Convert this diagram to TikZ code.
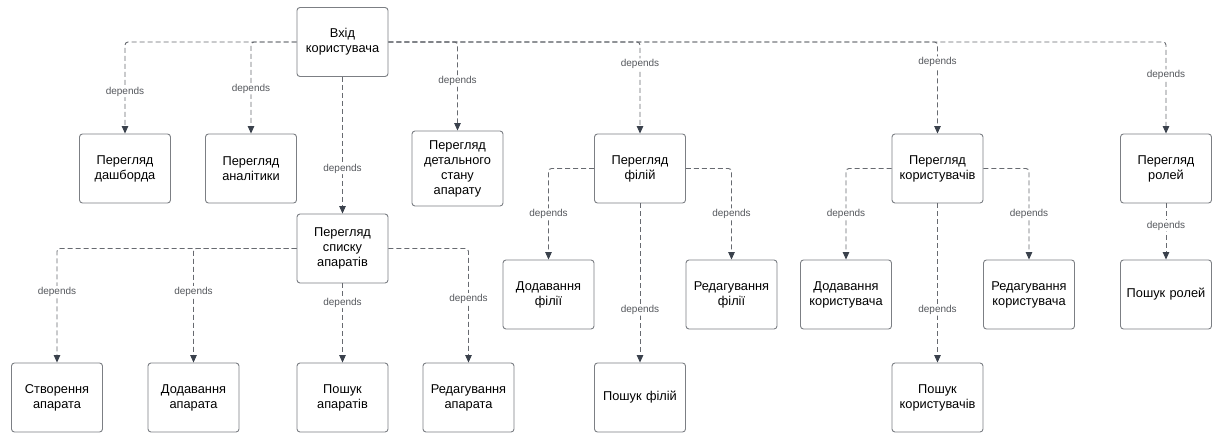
\documentclass[tikz,border=0pt]{standalone}
\usepackage{fontspec}
\setmainfont{Liberation Sans}
\usetikzlibrary{arrows.meta}
\definecolor{boxline}{HTML}{7C7F84}
\definecolor{edgeline}{HTML}{676A70}
\definecolor{tipcol}{HTML}{3A414C}
\definecolor{labeltext}{HTML}{55585D}
\tikzset{
  usecase/.style={draw=boxline, line width=0.9pt, rounded corners=3pt, fill=white,
    minimum width=91pt, minimum height=69pt, text width=86pt, align=center,
    inner sep=0pt, font=\fontsize{12.8}{15}\selectfont, text=black},
  dep/.style={draw=edgeline, line width=0.9pt, dash pattern=on 5pt off 3pt,
    rounded corners=3pt, -{Triangle[width=6.5pt,length=7.5pt,fill=tipcol,color=tipcol]}},
  deplabel/.style={fill=white, inner sep=1pt, font=\fontsize{10}{11}\selectfont,
    text=labeltext}
}
\begin{document}
\begin{tikzpicture}[x=1pt,y=-1pt]
\useasboundingbox[fill=white] (0,0) rectangle (1215,434);

% top level
\node[usecase] (login) at (342.5,42) {Вхід\\користувача};

% second level
\node[usecase] (dash)   at (125,168.5)   {Перегляд\\дашборда};
\node[usecase] (anal)   at (251,168.5)   {Перегляд\\аналітики};
\node[usecase, minimum height=75pt] (detail) at (457.5,168.5) {Перегляд\\детального\\стану\\апарату};
\node[usecase] (branch) at (640,168.5)   {Перегляд\\філій};
\node[usecase] (users)  at (937.5,168.5) {Перегляд\\користувачів};
\node[usecase] (roles)  at (1166,168.5)  {Перегляд\\ролей};
\node[usecase] (devlist) at (342.5,248.5) {Перегляд\\списку\\апаратів};

% third level
\node[usecase] (devcreate) at (57,397.5)    {Створення\\апарата};
\node[usecase] (devadd)    at (193.5,397.5) {Додавання\\апарата};
\node[usecase] (devfind)   at (342.5,397.5) {Пошук\\апаратів};
\node[usecase] (devedit)   at (468.5,397.5) {Редагування\\апарата};

\node[usecase] (bradd)  at (548.5,294.5) {Додавання\\філії};
\node[usecase] (brfind) at (640,397.5)   {Пошук філій};
\node[usecase] (bredit) at (731.5,294.5) {Редагування\\філії};

\node[usecase] (usadd)  at (846,294.5)   {Додавання\\користувача};
\node[usecase] (usfind) at (937.5,397.5) {Пошук\\користувачів};
\node[usecase] (usedit) at (1029,294.5)  {Редагування\\користувача};

\node[usecase] (rlfind) at (1166,294.5)  {Пошук ролей};

% dependencies of the login
\draw[dep] (login.west) -| node[deplabel, pos=0.77] (l1) {depends} (dash.north);
\draw[dep] (login.west) -| node[deplabel, pos=0.755] (l2) {depends} (anal.north);
\draw[dep] (login.south) -- node[deplabel, pos=0.67] (l3) {depends} (devlist.north);
\draw[dep] (login.east) -| node[deplabel, pos=0.72] (l4) {depends} (detail.north);
\draw[dep] (login.east) -| node[deplabel, pos=0.62] (l5) {depends} (branch.north);
\draw[dep] (login.east) -| node[deplabel, pos=0.61] (l6) {depends} (users.north);
\draw[dep] (login.east) -| node[deplabel, pos=0.68] (l7) {depends} (roles.north);

% device list
\draw[dep] (devlist.west) -| node[deplabel, pos=0.69] (l8) {depends} (devcreate.north);
\draw[dep] (devlist.west) -| node[deplabel, pos=0.69] (l9) {depends} (devadd.north);
\draw[dep] (devlist.south) -- node[deplabel, pos=0.24] (l10) {depends} (devfind.north);
\draw[dep] (devlist.east) -| node[deplabel, pos=0.72] (l11) {depends} (devedit.north);

% branches
\draw[dep] (branch.west) -| node[deplabel, pos=0.75] (l12) {depends} (bradd.north);
\draw[dep] (branch.south) -- node[deplabel, pos=0.67] (l13) {depends} (brfind.north);
\draw[dep] (branch.east) -| node[deplabel, pos=0.75] (l14) {depends} (bredit.north);

% users
\draw[dep] (users.west) -| node[deplabel, pos=0.75] (l15) {depends} (usadd.north);
\draw[dep] (users.south) -- node[deplabel, pos=0.67] (l16) {depends} (usfind.north);
\draw[dep] (users.east) -| node[deplabel, pos=0.75] (l17) {depends} (usedit.north);

% roles
\draw[dep] (roles.south) -- node[deplabel, pos=0.4] (l18) {depends} (rlfind.north);
\end{tikzpicture}
\end{document}
